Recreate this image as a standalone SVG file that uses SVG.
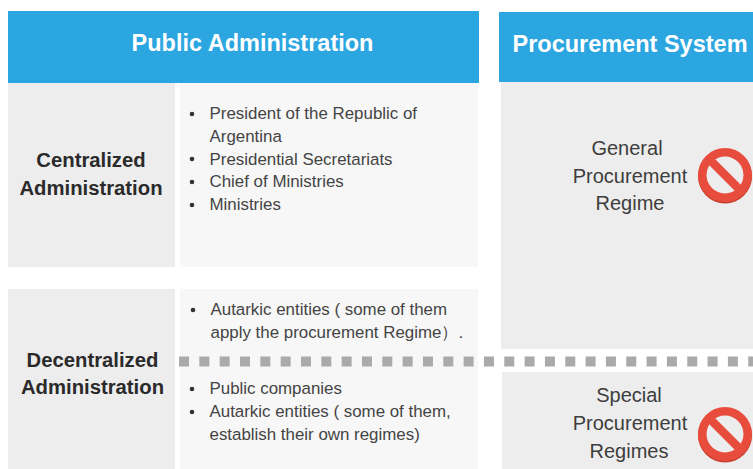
<svg xmlns="http://www.w3.org/2000/svg" width="753" height="469" viewBox="0 0 753 469">
<defs>
<g id="noSign">
<circle cx="0" cy="1.5" r="27" fill="#c93f2e"/>
<circle cx="0" cy="0" r="27" fill="#e74c3c"/>
<circle cx="0" cy="0" r="18.5" fill="#ededed"/>
<path d="M-14.5 -14.5 L14.5 14.5" stroke="#e74c3c" stroke-width="8.5"/>
</g>
</defs>
<style>
text{font-family:"Liberation Sans",Arial,sans-serif}
.hd{fill:#2ba6e1}
.lab{fill:#ededed}
.body{fill:#f7f7f7}
.h{font-size:23.500px;font-weight:bold;fill:#fff;text-anchor:middle}
.b{font-size:20.300px;font-weight:bold;fill:#2a2a2a;text-anchor:middle}
.r{font-size:20px;fill:#3d3d3d;text-anchor:middle}
.t{font-size:16.900px;fill:#444}
.d{fill:#333}
</style>
<rect width="753" height="469" fill="#fff"/>
<g id="public-admin">
<rect class="hd" x="8" y="11" width="471" height="72"/>
<text class="h" x="252.500" y="51">Public Administration</text>
</g>
<g id="procurement-system">
<rect class="hd" x="499" y="12" width="254" height="70"/>
<text class="h" x="630" y="52">Procurement System</text>
</g>
<g id="centralized">
<rect class="lab" x="8" y="83" width="167" height="184"/>
<text class="b" x="91" y="167">Centralized</text>
<text class="b" x="91" y="195">Administration</text>
</g>
<g id="centralized-list">
<rect class="body" x="180" y="83" width="298" height="184"/>
<circle class="d" cx="192" cy="114" r="2.300"/>
<circle class="d" cx="192" cy="159" r="2.300"/>
<circle class="d" cx="192" cy="182" r="2.300"/>
<circle class="d" cx="192" cy="205" r="2.300"/>
<text class="t" x="209.500" y="119">President of the Republic of</text>
<text class="t" x="209.500" y="142">Argentina</text>
<text class="t" x="209.500" y="165">Presidential Secretariats</text>
<text class="t" x="209.500" y="187">Chief of Ministries</text>
<text class="t" x="209.500" y="210">Ministries</text>
</g>
<g id="decentralized">
<rect class="lab" x="8" y="289" width="167" height="180"/>
<text class="b" x="92.500" y="367">Decentralized</text>
<text class="b" x="92.500" y="394">Administration</text>
</g>
<g id="decentralized-list">
<rect class="body" x="180" y="289" width="298" height="180"/>
<circle class="d" cx="193" cy="310" r="2.300"/>
<circle class="d" cx="192" cy="389" r="2.300"/>
<circle class="d" cx="192" cy="412" r="2.300"/>
<text class="t" x="210.500" y="315">Autarkic entities ( some of them</text>
<text class="t" x="210.500" y="338">apply the procurement Regime）.</text>
<text class="t" x="209.500" y="394">Public companies</text>
<text class="t" x="209.500" y="417">Autarkic entities ( some of them,</text>
<text class="t" x="209.500" y="440">establish their own regimes)</text>
</g>
<g id="general-regime">
<rect class="lab" x="501" y="82" width="252" height="267"/>
<text class="r" x="627" y="155">General</text>
<text class="r" x="630" y="183">Procurement</text>
<text class="r" x="630" y="210">Regime</text>
<use href="#noSign" x="725" y="175"/>
</g>
<g id="special-regimes">
<rect class="lab" x="502" y="372" width="251" height="97"/>
<text class="r" x="629" y="402">Special</text>
<text class="r" x="630" y="430">Procurement</text>
<text class="r" x="629" y="458">Regimes</text>
<use href="#noSign" x="725" y="434"/>
</g>
<g id="connectors">
<path d="M179 361.500 H753" fill="none" stroke="#aaa" stroke-width="10" stroke-dasharray="10 10.330"/>
</g>
</svg>
